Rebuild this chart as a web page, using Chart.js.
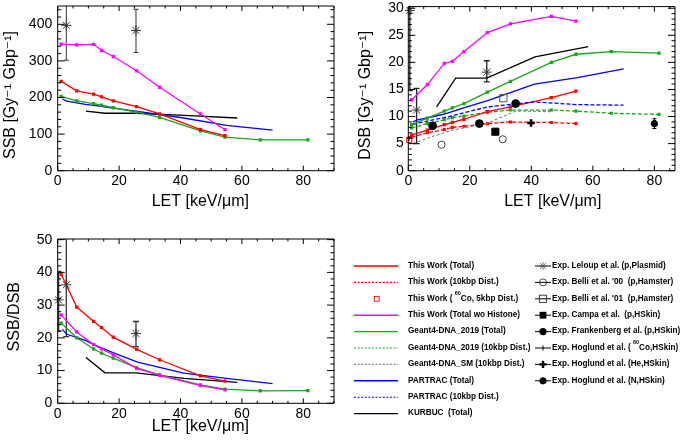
<!DOCTYPE html>
<html><head><meta charset="utf-8">
<script src="https://cdn.jsdelivr.net/npm/chart.js@4.4.1/dist/chart.umd.min.js"></script>
<style>
html,body{margin:0;padding:0;background:#fff;width:685px;height:444px;overflow:hidden;position:relative;font-family:"Liberation Sans",Arial,Helvetica,sans-serif;}
.pane{position:absolute;}
.lg{position:absolute;font-weight:bold;font-size:8.2px;line-height:10px;white-space:pre;color:#000;}
.lg sup{font-size:5.5px;line-height:0;vertical-align:top;position:relative;top:-0.5px;}
#lsym{position:absolute;left:0;top:0;}
</style></head>
<body>
<div class="pane" style="left:0;top:0;"><canvas id="c1" width="340" height="222"></canvas></div>
<div class="pane" style="left:340px;top:0;"><canvas id="c2" width="345" height="222"></canvas></div>
<div class="pane" style="left:0;top:225px;"><canvas id="c3" width="340" height="219"></canvas></div>
<svg id="lsym" width="685" height="444"></svg>
<div id="legend"></div>
<script>
// ================= DATA =================
// LET grids (keV/um)
const letTW = [1.1, 6.2, 11.7, 14.3, 18.1, 25.7, 33.2, 46.5, 54.5];          // This Work
const letG4 = [1.1, 6.2, 11.7, 14.3, 18.1, 25.7, 33.2, 46.5, 54.5, 66, 81.5]; // Geant4-DNA_2019
const letSM = [1.6, 6.2, 11.7, 14.3, 18.1, 25.7, 35, 46.5];                   // Geant4-DNA_SM
const letPT = [1.5, 3, 9, 12.5, 18, 26, 41, 55, 70];                          // PARTRAC
const letKB = [9.2, 15.4, 25.5, 41.2, 58.5];                                  // KURBUC

// SSB [Gy^-1 Gbp^-1]
const twSSB      = [244, 218, 209, 202, 191, 175, 155, 112, 96];
const twNoHisSSB = [346, 344, 345, 329, 312, 273, 228, 155, 112];
const g4SSB      = [203, 191, 183, 179, 172, 160, 146, 109, 92, 84, 84];
const ptSSB      = [196, 190, 181, 178, 171, 162, 144, 124, 111];
const kbSSB      = [163, 157, 157, 151, 144];

// DSB [Gy^-1 Gbp^-1]
const twDSB      = [6.6, 7.5, 8.5, 8.9, 9.5, 10.9, 11.8, 13.5, 14.7];
const twDSB10    = [6.2, 7.0, 7.6, 8.0, 8.2, 8.7, 9.0, 8.9, 8.7];
const twNoHisDSB = [13.1, 15.9, 19.8, 20.2, 22.0, 25.5, 27.1, 28.5, 27.6];
const g4DSB      = [8.5, 9.7, 11.0, 11.6, 12.4, 14.5, 16.5, 20.0, 21.5, 22.0, 21.7];
const g4DSB10    = [7.9, 8.7, 9.4, 9.8, 10.1, 10.8, 11.2, 11.2, 11.0, 10.6, 10.4];
const smDSB10    = [5.0, 6.0, 7.0, 7.5, 7.9, 8.8, 11.0, 10.9];
const ptDSB      = [9.0, 9.4, 10.1, 10.6, 11.6, 13.0, 16.0, 17.2, 18.8];
const ptDSB10    = [8.5, 8.8, 9.5, 9.9, 10.7, 11.8, 12.7, 12.2, 12.1];
const kbDSB      = [11.8, 17.1, 17.1, 21.0, 22.9];

// SSB/DSB
const twRatio      = [39.5, 29.4, 25.0, 23.1, 20.2, 16.5, 13.3, 8.4, 6.8];
const twNoHisRatio = [27.0, 21.8, 17.9, 16.6, 14.8, 10.7, 8.5, 5.4, 4.1];
const g4Ratio      = [24.5, 20.0, 16.6, 15.3, 13.8, 10.9, 8.7, 5.6, 4.3, 3.8, 3.9];
const ptRatio      = [22.6, 21.1, 19.2, 17.6, 15.5, 12.6, 9.2, 7.6, 6.0];
const kbRatio      = [14.0, 9.3, 9.3, 7.6, 6.4];

// Experiments
const lelSSBx = [2.8, 25.5], lelSSBy = [397, 383], lelSSBlo = [302, 323], lelSSBhi = [500, 441];
const lelDSBx = [0.5, 2.7, 25.5], lelDSBy = [29.6, 11.2, 18.2], lelDSBlo = [14.8, 5.0, 16.4], lelDSBhi = [32, 15.2, 20.3];
const lelRx = [0.3, 2.8, 25.5], lelRy = [31.6, 36.2, 21.3], lelRlo = [22.1, 20.4, 17.3], lelRhi = [40.3, 55, 25.0];
const twCoX = [0.3], twCoY = [5.7];
const belli00X = [10.8, 30.7], belli00Y = [4.8, 5.8];
const belli01X = [30.9], belli01Y = [13.4];
const campaX = [28.3], campaY = [7.2];
const frankX = [7.9, 23.1, 34.9], frankY = [8.3, 8.7, 12.4];
const hog60X = [0.3], hog60Y = [6.0];
const hogHeX = [39.9], hogHeY = [8.8];
const hogNX = [80], hogNY = [8.7], hogNlo = [7.8], hogNhi = [9.6];

// Axis ticks
const xTickVals = [0, 20, 40, 60, 80];
const ssbTickVals = [0, 100, 200, 300, 400];
const dsbTickVals = [0, 5, 10, 15, 20, 25, 30];
const ratioTickVals = [0, 10, 20, 30, 40, 50];

// ================= HELPERS =================
const FAM = '"Liberation Sans", Arial, "DejaVu Sans", sans-serif';
const RED = '#ff0000', MAG = '#ff00ff', GRN = '#1aa51a', BLU = '#0000ff', BLK = '#000000', GRY = '#888888';
const TICKFONT = 14;

function pts(xs, ys) { return xs.map((x, i) => ({x: x, y: ys[i]})); }
function line(label, xs, ys, color, extra) {
  return Object.assign({label, data: pts(xs, ys), showLine: true, borderColor: color, backgroundColor: color,
    borderWidth: 1.3, pointRadius: 0, pointStyle: 'rect', tension: 0}, extra || {});
}
function marks(label, xs, ys, style, extra) {
  return Object.assign({label, data: pts(xs, ys), showLine: false, pointStyle: style, clip: false,
    borderColor: '#000', backgroundColor: '#000', borderWidth: 1, pointRadius: 4}, extra || {});
}
const MK = {pointRadius: 1.4};

const rootFrame = {
  id: 'rootFrame',
  afterDraw(chart, args, o) {
    const {ctx, chartArea: a} = chart;
    const xs = chart.scales.x, ys = chart.scales.y;
    ctx.save();
    ctx.strokeStyle = '#000';
    ctx.lineWidth = 1;
    ctx.beginPath();
    ctx.rect(a.left, a.top, a.right - a.left, a.bottom - a.top);
    const eps = 1e-6;
    for (let k = 0; ; k++) {
      const v = xs.min + k * o.xMinor;
      if (v > xs.max + eps) break;
      const maj = Math.abs(v / o.xMajor - Math.round(v / o.xMajor)) < eps;
      const L = maj ? o.xLen : o.xLen * 0.5;
      const p = xs.getPixelForValue(v);
      ctx.moveTo(p, a.bottom); ctx.lineTo(p, a.bottom - L);
      ctx.moveTo(p, a.top); ctx.lineTo(p, a.top + L);
    }
    for (let k = 0; ; k++) {
      const v = ys.min + k * o.yMinor;
      if (v > ys.max + eps) break;
      const maj = Math.abs(v / o.yMajor - Math.round(v / o.yMajor)) < eps;
      const L = maj ? o.yLen : o.yLen * 0.5;
      const p = ys.getPixelForValue(v);
      ctx.moveTo(a.left, p); ctx.lineTo(a.left + L, p);
      ctx.moveTo(a.right, p); ctx.lineTo(a.right - L, p);
    }
    ctx.stroke();
    ctx.restore();
  }
};

const errBars = {
  id: 'errBars',
  beforeDatasetsDraw(chart) {
    const {ctx, chartArea: a} = chart;
    const xs = chart.scales.x, ys = chart.scales.y;
    ctx.save();
    ctx.beginPath(); ctx.rect(a.left, a.top, a.right - a.left, a.bottom - a.top); ctx.clip();
    chart.data.datasets.forEach(ds => {
      if (!ds.errLo) return;
      ctx.strokeStyle = ds.errColor || '#000';
      ctx.lineWidth = ds.errWidth || 1;
      ctx.beginPath();
      ds.data.forEach((p, i) => {
        const px = xs.getPixelForValue(p.x);
        const y1 = ys.getPixelForValue(ds.errLo[i]), y2 = ys.getPixelForValue(ds.errHi[i]);
        ctx.moveTo(px, y1); ctx.lineTo(px, y2);
        const c = ds.errCap || 0;
        if (c) { ctx.moveTo(px - c, y1); ctx.lineTo(px + c, y1); ctx.moveTo(px - c, y2); ctx.lineTo(px + c, y2); }
      });
      ctx.stroke();
    });
    ctx.restore();
  }
};

function makeChart(id, c) {
  return new Chart(document.getElementById(id), {
    type: 'scatter',
    data: {datasets: c.datasets},
    options: {
      responsive: false, animation: false, events: [],
      layout: {padding: c.pad},
      plugins: {legend: {display: false}, tooltip: {enabled: false}, rootFrame: c.frame},
      scales: {
        x: {
          type: 'linear', min: 0, max: c.xMax,
          grid: {display: false, drawTicks: false}, border: {display: false},
          ticks: {font: {size: TICKFONT, family: FAM}, color: '#000', padding: 2.5, maxRotation: 0},
          afterBuildTicks: s => { s.ticks = xTickVals.map(v => ({value: v})); },
          afterFit: s => { s.height = c.xH; s.paddingLeft = 0; s.paddingRight = 0; },
          title: {display: true, text: c.xTitle, color: '#000', font: {size: 16, family: FAM},
                  padding: {top: 0, bottom: c.xTitlePad}}
        },
        y: {
          type: 'linear', min: 0, max: c.yMax,
          grid: {display: false, drawTicks: false}, border: {display: false},
          ticks: {font: {size: TICKFONT, family: FAM}, color: '#000', padding: c.yTickPad},
          afterBuildTicks: s => { s.ticks = c.yTicks.map(v => ({value: v})); },
          afterFit: s => { s.width = c.yW; s.paddingTop = 0; s.paddingBottom = 0; },
          title: {display: true, text: c.yTitle, color: '#000', font: {size: 16, family: FAM},
                  padding: {top: c.yTitlePad, bottom: 0}}
        }
      }
    },
    plugins: [errBars, rootFrame]
  });
}

const starStyle = {pointStyle: 'star', pointRadius: 5, borderColor: '#333', backgroundColor: '#333', borderWidth: 1};

// ================= PANEL 1: SSB =================
makeChart('c1', {
  pad: {left: 0, top: 5, right: 5, bottom: 0},
  xMax: 90, yMax: 450, yTicks: ssbTickVals, yW: 57.7, xH: 51.3, xTitlePad: 10.7, yTitlePad: 1.2, yTickPad: 5.5,
  xTitle: '  LET [keV/\u03bcm]', yTitle: 'SSB [Gy\u207b\u00b9 Gbp\u207b\u00b9]   ',
  frame: {xMinor: 5, xMajor: 20, xLen: 5, yMinor: 20, yMajor: 100, yLen: 7},
  datasets: [
    marks('Leloup', lelSSBx, lelSSBy, 'star', Object.assign({errLo: lelSSBlo, errHi: lelSSBhi, errCap: 2.5, errColor: '#333'}, starStyle)),
    line('TW wo Histone', letTW, twNoHisSSB, MAG, MK),
    line('TW Total', letTW, twSSB, RED, MK),
    line('G4 Total', letG4, g4SSB, GRN, MK),
    line('PARTRAC', letPT, ptSSB, BLU),
    line('KURBUC', letKB, kbSSB, BLK)
  ]
});

// ================= PANEL 2: DSB =================
makeChart('c2', {
  pad: {left: 0, top: 6, right: 10, bottom: 0},
  xMax: 86.7, yMax: 30.3, yTicks: dsbTickVals, yW: 68.3, xH: 51.3, xTitlePad: 10.7, yTitlePad: 16, yTickPad: 4.5,
  xTitle: '     LET [keV/\u03bcm]', yTitle: 'DSB [Gy\u207b\u00b9 Gbp\u207b\u00b9]   ',
  frame: {xMinor: 5, xMajor: 20, xLen: 5, yMinor: 1, yMajor: 5, yLen: 7},
  datasets: [
    marks('Leloup', lelDSBx, lelDSBy, 'star', Object.assign({errLo: lelDSBlo, errHi: lelDSBhi, errCap: 3, errColor: '#222', errWidth: 1.3}, starStyle)),
    marks('Hoglund N', hogNX, hogNY, 'star', {pointRadius: 3.5, borderWidth: 2.6, errLo: hogNlo, errHi: hogNhi, errCap: 2}),
    marks('Hoglund He', hogHeX, hogHeY, 'cross', {pointRadius: 3.8, borderWidth: 2.6}),
    marks('Hoglund 60Co', hog60X, hog60Y, 'cross', {pointRadius: 2.2, borderWidth: 1}),
    marks('Frankenberg', frankX, frankY, 'circle', {pointRadius: 3.9}),
    marks('Campa', campaX, campaY, 'rect', {pointRadius: 5}),
    marks('Belli01', belli01X, belli01Y, 'rect', {pointRadius: 5.2, backgroundColor: 'rgba(255,255,255,0)', borderColor: '#555'}),
    marks('Belli00', belli00X, belli00Y, 'circle', {pointRadius: 3.6, backgroundColor: 'rgba(255,255,255,0)', borderColor: '#444'}),
    marks('TW 60Co', twCoX, twCoY, 'rect', {pointRadius: 3.6, backgroundColor: 'rgba(255,255,255,0)', borderColor: RED}),
    line('TW wo Histone', letTW, twNoHisDSB, MAG, MK),
    line('KURBUC', letKB, kbDSB, BLK),
    line('G4 Total', letG4, g4DSB, GRN, MK),
    line('PARTRAC', letPT, ptDSB, BLU),
    line('PARTRAC 10kbp', letPT, ptDSB10, BLU, {borderDash: [4, 2]}),
    line('TW Total', letTW, twDSB, RED, MK),
    line('G4 10kbp', letG4, g4DSB10, GRN, {borderDash: [4, 2], pointRadius: 1.3}),
    line('G4 SM 10kbp', letSM, smDSB10, GRY, {borderDash: [3, 2], borderWidth: 1.1}),
    line('TW 10kbp', letTW, twDSB10, RED, {borderDash: [4, 2], pointRadius: 1.3})
  ]
});

// ================= PANEL 3: SSB/DSB =================
makeChart('c3', {
  pad: {left: 0, top: 14, right: 5, bottom: 0},
  xMax: 90, yMax: 50.2, yTicks: ratioTickVals, yW: 57.7, xH: 40.7, xTitlePad: 7.4, yTitlePad: 5.4, yTickPad: 5.5,
  xTitle: '  LET [keV/\u03bcm]', yTitle: '  SSB/DSB',
  frame: {xMinor: 5, xMajor: 20, xLen: 5, yMinor: 2, yMajor: 10, yLen: 7},
  datasets: [
    marks('Leloup', lelRx, lelRy, 'star', Object.assign({errLo: lelRlo, errHi: lelRhi, errCap: 3, errColor: '#333', errWidth: 1.3}, starStyle)),
    line('TW Total', letTW, twRatio, RED, MK),
    line('TW wo Histone', letTW, twNoHisRatio, MAG, MK),
    line('G4 Total', letG4, g4Ratio, GRN, MK),
    line('PARTRAC', letPT, ptRatio, BLU),
    line('KURBUC', letKB, kbRatio, BLK)
  ]
});

// ================= LEGEND =================
const legRowY = [266, 282.4, 298.8, 315.2, 331.6, 348, 364.4, 380.8, 397.2, 413.6];
const legLeft = [
  {t: 'This Work (Total)', c: RED, k: 'solid'},
  {t: 'This Work (10kbp Dist.)', c: RED, k: 'dash'},
  {t: 'This Work ( <sup>60</sup>Co, 5kbp Dist.)', c: RED, k: 'sq'},
  {t: 'This Work (Total wo Histone)', c: MAG, k: 'solid'},
  {t: 'Geant4-DNA_2019 (Total)', c: GRN, k: 'solid'},
  {t: 'Geant4-DNA_2019 (10kbp Dist.)', c: GRN, k: 'dash'},
  {t: 'Geant4-DNA_SM (10kbp Dist.)', c: GRY, k: 'dash'},
  {t: 'PARTRAC (Total)', c: BLU, k: 'solid'},
  {t: 'PARTRAC (10kbp Dist.)', c: BLU, k: 'dash'},
  {t: 'KURBUC  (Total)', c: BLK, k: 'solid'}
];
const legRight = [
  {t: 'Exp. Leloup et al. (p,Plasmid)', k: 'star'},
  {t: "Exp. Belli et al. '00  (p,Hamster)", k: 'ocirc'},
  {t: "Exp. Belli et al. '01  (p,Hamster)", k: 'osq'},
  {t: 'Exp. Campa et al.  (p,HSkin)', k: 'fsq'},
  {t: 'Exp. Frankenberg et al. (p,HSkin)', k: 'fcirc'},
  {t: 'Exp. Hoglund et al. ( <sup>60</sup>Co,HSkin)', k: 'plus'},
  {t: 'Exp. Hoglund et al. (He,HSkin)', k: 'tplus'},
  {t: 'Exp. Hoglund et al. (N,HSkin)', k: 'tstar'}
];
(function buildLegend() {
  const svg = document.getElementById('lsym');
  const leg = document.getElementById('legend');
  let s = '';
  let h = '';
  legLeft.forEach((e, i) => {
    const y = legRowY[i];
    if (e.k === 'solid') s += `<line x1="354" y1="${y}" x2="398" y2="${y}" stroke="${e.c}" stroke-width="1.4"/>`;
    else if (e.k === 'dash') s += `<line x1="354" y1="${y}" x2="398" y2="${y}" stroke="${e.c}" stroke-width="1.1" stroke-dasharray="2,1.6"/>`;
    else s += `<rect x="374.3" y="${y - 2.4}" width="4.8" height="4.8" fill="none" stroke="${e.c}" stroke-width="0.9"/>`;
    h += `<div class="lg" style="left:408px;top:${y - 5.2}px">${e.t}</div>`;
  });
  const cx = 543;
  legRight.forEach((e, i) => {
    const y = legRowY[i];
    s += `<line x1="535" y1="${y}" x2="551" y2="${y}" stroke="#000" stroke-width="1"/>`;
    if (e.k === 'star') {
      s += `<g stroke="#555" stroke-width="0.8"><line x1="${cx - 4}" y1="${y}" x2="${cx + 4}" y2="${y}"/><line x1="${cx}" y1="${y - 4}" x2="${cx}" y2="${y + 4}"/><line x1="${cx - 3}" y1="${y - 3}" x2="${cx + 3}" y2="${y + 3}"/><line x1="${cx - 3}" y1="${y + 3}" x2="${cx + 3}" y2="${y - 3}"/></g>`;
    } else if (e.k === 'ocirc') {
      s += `<circle cx="${cx}" cy="${y}" r="3.5" fill="none" stroke="#333" stroke-width="0.9"/>`;
    } else if (e.k === 'osq') {
      s += `<rect x="${cx - 3.6}" y="${y - 3.6}" width="7.2" height="7.2" fill="none" stroke="#333" stroke-width="0.9"/>`;
    } else if (e.k === 'fsq') {
      s += `<rect x="${cx - 3.4}" y="${y - 3.4}" width="6.8" height="6.8" fill="#000"/>`;
    } else if (e.k === 'fcirc') {
      s += `<circle cx="${cx}" cy="${y}" r="3.6" fill="#000"/>`;
    } else if (e.k === 'plus') {
      s += `<line x1="${cx}" y1="${y - 2.5}" x2="${cx}" y2="${y + 2.5}" stroke="#000" stroke-width="1"/>`;
    } else if (e.k === 'tplus') {
      s += `<g stroke="#000" stroke-width="2.4"><line x1="${cx - 3.6}" y1="${y}" x2="${cx + 3.6}" y2="${y}"/><line x1="${cx}" y1="${y - 3.6}" x2="${cx}" y2="${y + 3.6}"/></g>`;
    } else if (e.k === 'tstar') {
      s += `<g stroke="#000" stroke-width="2.2"><line x1="${cx - 3.5}" y1="${y}" x2="${cx + 3.5}" y2="${y}"/><line x1="${cx}" y1="${y - 3.5}" x2="${cx}" y2="${y + 3.5}"/><line x1="${cx - 2.6}" y1="${y - 2.6}" x2="${cx + 2.6}" y2="${y + 2.6}"/><line x1="${cx - 2.6}" y1="${y + 2.6}" x2="${cx + 2.6}" y2="${y - 2.6}"/></g>`;
    }
    h += `<div class="lg" style="left:552px;top:${y - 5.2}px">${e.t}</div>`;
  });
  svg.innerHTML = s;
  leg.innerHTML = h;
})();
</script>
</body></html>
